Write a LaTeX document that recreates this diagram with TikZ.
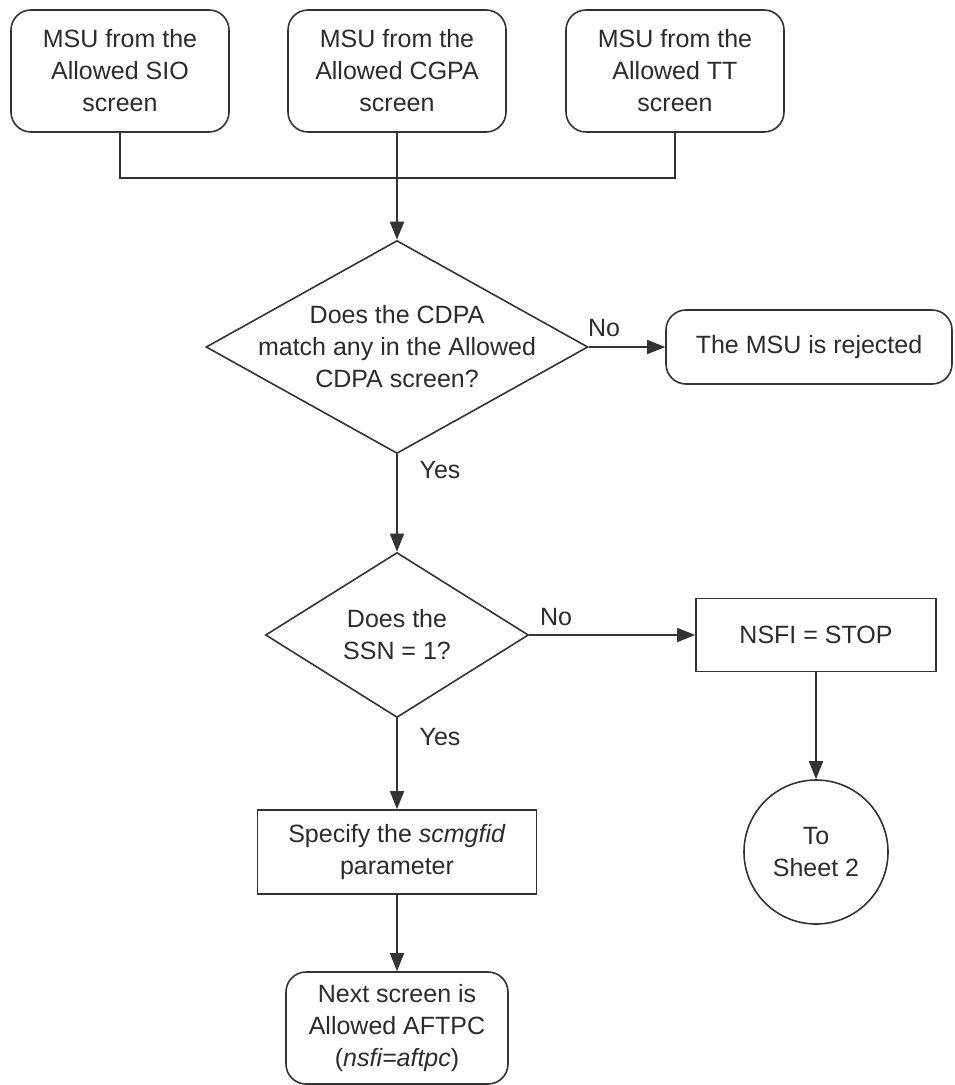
\documentclass[tikz,border=0pt]{standalone}
\usepackage{fontspec}
\setmainfont{Liberation Sans}
\usetikzlibrary{arrows.meta,positioning,shapes.geometric}
\definecolor{fcline}{HTML}{333333}
\definecolor{fctext}{HTML}{2B2B2B}

\begin{document}
\begin{tikzpicture}[x=0.5pt, y=-0.5pt,
    font=\fontsize{12.5}{16}\selectfont,
    term/.style={draw=fcline, line width=0.8pt, rounded corners=10pt,
                 minimum width=109pt, minimum height=61pt,
                 align=center, text=fctext},
    proc/.style={draw=fcline, line width=0.8pt, align=center, text=fctext},
    decide/.style={draw=fcline, line width=0.8pt, shape=diamond, inner sep=0pt},
    dtext/.style={align=center, text=fctext, inner sep=0pt},
    conn/.style={draw=fcline, line width=0.8pt, shape=circle,
                 minimum size=72pt, align=center, text=fctext},
    lbl/.style={text=fctext, inner sep=0pt},
    line/.style={draw=fcline, line width=0.8pt},
    arr/.style={line, -{Triangle[length=9pt, width=7pt]}}
]
  \useasboundingbox (0,0) rectangle (954,1085);

  % Entry screens
  \node[term] (sio)  at (120,71) {MSU from the\\Allowed SIO\\screen};
  \node[term] (cgpa) at (397,71) {MSU from the\\Allowed CGPA\\screen};
  \node[term] (tt)   at (675,71) {MSU from the\\Allowed TT\\screen};
  \coordinate (merge) at (397,178);

  % CDPA check
  \node[decide, minimum width=191pt, minimum height=106.5pt] (cdpa) at (397,347) {};
  \node[dtext] (cdpat) at (cdpa) {Does the CDPA\\match any in the Allowed\\CDPA screen?};
  \node[term, minimum width=143pt, minimum height=37pt] (rej) at (809,347) {The MSU is rejected};

  % SSN check
  \node[decide, minimum width=131.5pt, minimum height=82.5pt] (ssn) at (397,635) {};
  \node[dtext] (ssnt) at (ssn) {Does the\\SSN = 1?};
  \node[proc, minimum width=120pt, minimum height=36.5pt] (stop) at (816,635) {NSFI = STOP};

  \node[proc, minimum width=139.5pt, minimum height=42pt] (spec) at (397,852)
    {Specify the \textit{scmgfid}\\parameter};
  \node[conn] (sheet) at (816,852) {To\\Sheet 2};
  \node[term, minimum width=111pt, minimum height=56pt] (next) at (397,1028)
    {Next screen is\\Allowed AFTPC\\(\textit{nsfi=aftpc})};

  % Branch labels
  \node[lbl] (no1)  at (604,328) {No};
  \node[lbl] (yes1) at (440,470) {Yes};
  \node[lbl] (no2)  at (556,617) {No};
  \node[lbl] (yes2) at (440,737) {Yes};

  % Connectors
  \draw[line] (sio.south) |- (merge) -| (tt.south);
  \draw[line] (cgpa.south) -- (merge);
  \draw[arr, line width=1.1pt] (merge) -- (cdpa.north);
  \draw[arr] (cdpa.east) -- (rej.west);
  \draw[arr] (cdpa.south) -- (ssn.north);
  \draw[arr] (ssn.east) -- (stop.west);
  \draw[arr] (ssn.south) -- (spec.north);
  \draw[arr] (stop.south) -- (sheet.north);
  \draw[arr] (spec.south) -- (next.north);
\end{tikzpicture}
\end{document}
